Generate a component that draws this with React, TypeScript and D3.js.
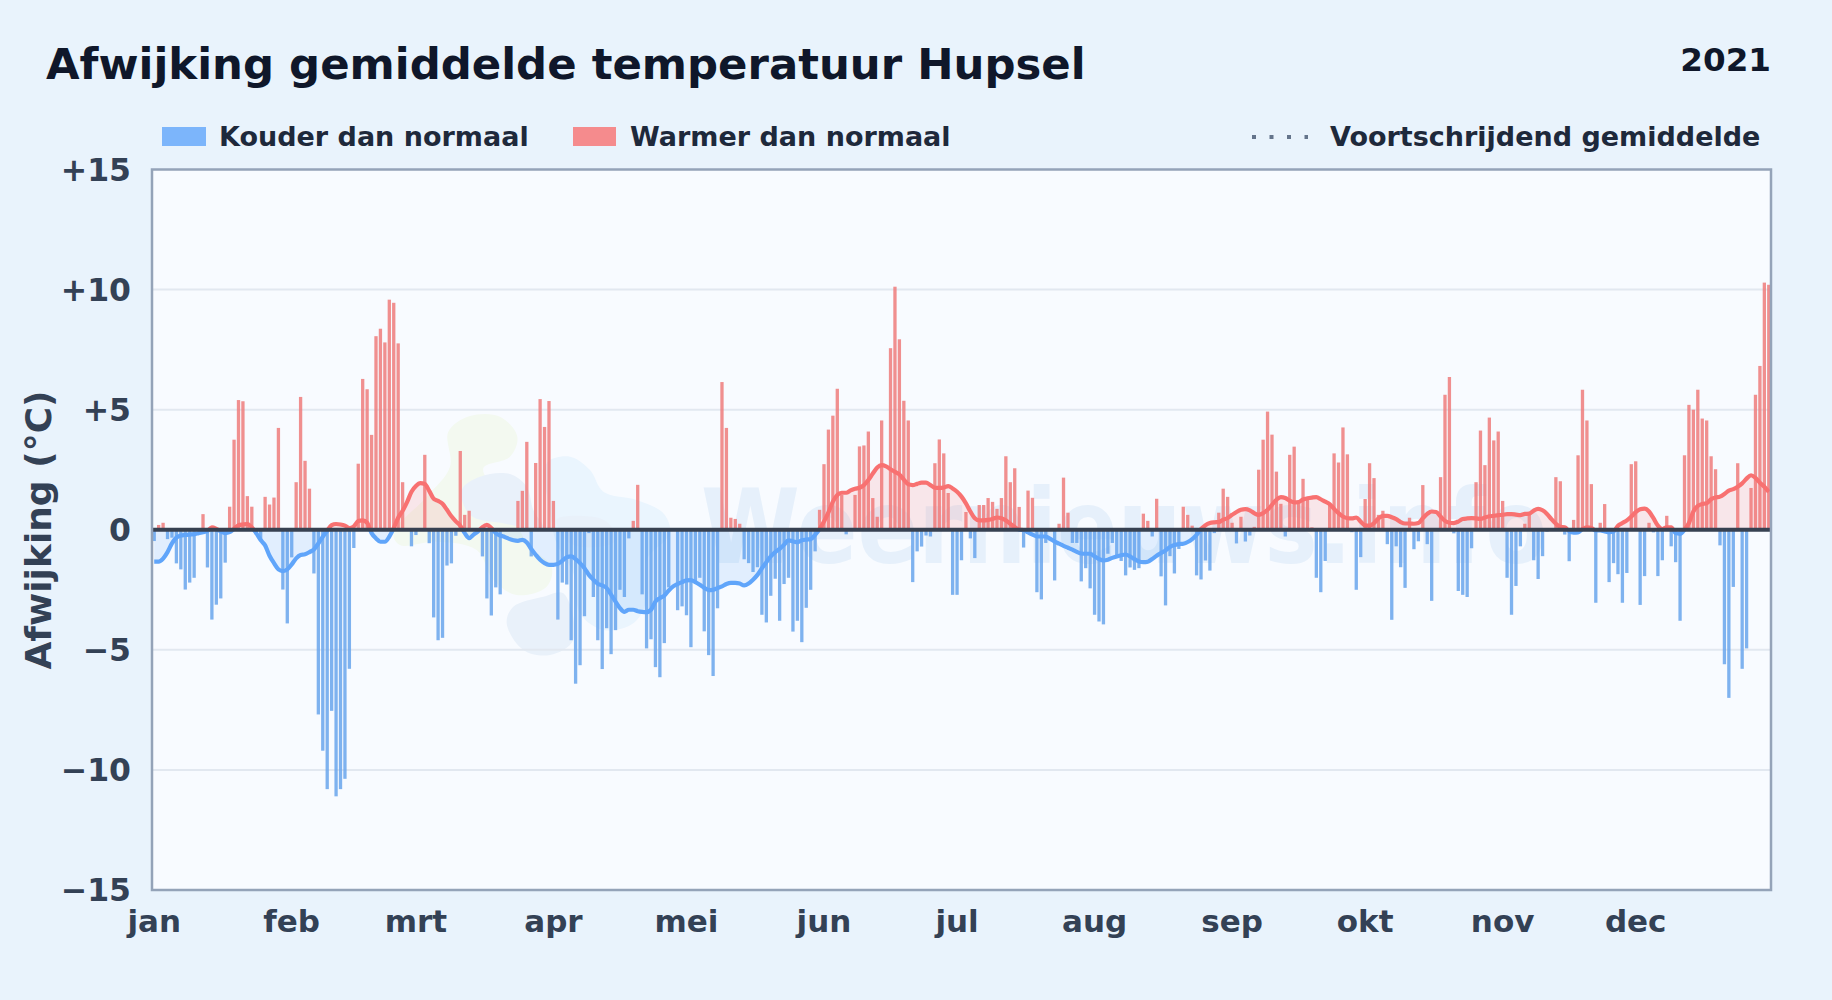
import React from 'react'
import * as d3 from 'd3'

// dagelijkse afwijking (graden C), 1 jan t/m 31 dec 2021
const dailyDeviation: number[] = [
  -0.47, 0.2, 0.29, -0.39, -0.33, -1.4, -1.65, -2.49, -2.2, -2.0,
  0.05, 0.65, -1.57, -3.74, -3.12, -2.86, -1.37, 0.96, 3.75, 5.4,
  5.35, 1.4, 0.96, -0.2, -0.43, 1.37, 1.05, 1.34, 4.24, -2.49,
  -3.9, -1.15, 1.98, 5.53, 2.87, 1.71, -1.82, -7.69, -9.2, -10.8,
  -7.54, -11.1, -10.8, -10.37, -5.79, -0.76, 2.75, 6.28, 5.85, 3.95,
  8.06, 8.37, 7.8, 9.58, 9.45, 7.76, 1.98, 0.05, -0.69, -0.22,
  0.05, 3.12, -0.56, -3.65, -4.6, -4.5, -1.49, -1.4, -0.25, 3.28,
  0.62, 0.79, 0.05, 0.05, -1.11, -2.86, -3.57, -2.4, -2.69, -0.05,
  0.05, -0.05, 1.2, 1.62, 3.66, -1.11, 2.78, 5.44, 4.28, 5.36,
  1.2, -3.74, -2.2, -2.28, -4.6, -6.41, -5.64, -3.6, -0.14, -2.8,
  -4.6, -5.8, -4.1, -5.18, -4.18, -2.5, -2.8, -0.36, 0.37, 1.87,
  -2.69, -4.94, -4.56, -5.72, -6.14, -4.72, -2.4, -0.05, -3.35, -3.19,
  -3.56, -4.89, -2.2, -2.0, -4.23, -5.22, -6.09, -3.27, 6.15, 4.24,
  0.5, 0.45, 0.25, -1.23, -1.39, -1.76, -1.56, -3.54, -3.86, -2.75,
  -2.04, -3.79, -2.26, -2.0, -4.24, -3.79, -4.68, -3.25, -2.5, -0.9,
  0.83, 2.73, 4.17, 4.75, 5.87, 1.45, -0.19, 0.05, 1.45, 3.47,
  3.51, 4.09, 1.32, 0.54, 4.55, 0.05, 7.56, 10.12, 7.93, 5.37,
  4.55, -2.18, -0.9, -0.7, -0.24, -0.28, 2.77, 3.76, 3.18, 1.53,
  -2.71, -2.71, -1.27, 0.74, -0.36, -1.18, 1.03, 1.03, 1.32, 1.16,
  0.87, 1.32, 3.06, 1.98, 2.56, 0.95, -0.74, 1.63, 1.33, -2.6,
  -2.9, -0.55, 0.05, -2.11, 0.25, 2.17, 0.71, -0.55, -0.55, -2.15,
  -1.6, -2.44, -3.54, -3.82, -3.94, -1.0, -0.55, -1.1, -1.3, -1.9,
  -1.57, -1.67, -1.6, 0.67, 0.37, -0.28, 1.29, -1.94, -3.15, -1.1,
  -1.82, -0.8, 0.96, 0.62, 0.17, -1.9, -2.07, -1.28, -1.7, -0.14,
  0.71, 1.71, 1.37, 0.29, -0.57, 0.54, -0.49, -0.24, 0.12, 2.5,
  3.75, 4.92, 3.96, 2.42, 1.08, -0.28, 3.12, 3.46, 1.1, 2.12,
  1.25, 0.1, -2.0, -2.6, -1.3, 1.1, 3.18, 2.8, 4.26, 3.14,
  -0.1, -2.5, -1.14, 1.28, 2.77, 2.15, 0.62, 0.79, -0.6, -3.75,
  -0.69, -1.56, -2.42, 0.5, -0.81, -0.48, 1.86, -0.6, -2.96, 0.05,
  2.19, 5.62, 6.36, -0.15, -2.55, -2.71, -2.8, -0.77, 1.98, 4.13,
  2.69, 4.67, 3.72, 4.09, 1.2, -2.0, -3.54, -2.34, -0.69, 0.25,
  0.62, -1.27, -2.05, -1.1, -0.08, 0.05, 2.19, 2.02, -0.2, -1.31,
  0.41, 3.1, 5.83, 4.55, 1.9, -3.04, 0.29, 1.07, -2.18, -1.39,
  -1.85, -3.04, -1.8, 2.73, 2.85, -3.13, -1.93, 0.29, -0.11, -1.93,
  -1.27, 0.58, -0.69, -1.35, -3.79, 3.1, 5.2, 5.0, 5.83, 4.63,
  4.55, 3.06, 2.52, -0.65, -5.6, -7.0, -2.38, 2.77, -5.79, -4.94,
  1.74, 5.62, 6.82, 10.29, 10.2,
]

// voortschrijdend gemiddelde per dag
const movingAverage: number[] = [
  -1.33, -1.33, -1.2, -0.93, -0.57, -0.33, -0.24, -0.22, -0.2, -0.19,
  -0.14, -0.1, -0.05, 0.1, 0.04, -0.07, -0.14, -0.1, 0.04, 0.19,
  0.22, 0.24, 0.1, -0.14, -0.43, -0.65, -1.08, -1.39, -1.65, -1.72,
  -1.65, -1.44, -1.19, -1.05, -1.02, -0.93, -0.82, -0.57, -0.29, -0.04,
  0.19, 0.24, 0.22, 0.17, 0.07, 0.14, 0.36, 0.39, 0.29, -0.14,
  -0.36, -0.5, -0.5, -0.29, 0.07, 0.5, 0.79, 1.15, 1.58, 1.82,
  1.94, 1.91, 1.62, 1.29, 1.2, 1.08, 0.83, 0.56, 0.35, 0.17,
  -0.14, -0.35, -0.2, -0.07, 0.11, 0.2, 0.07, -0.14, -0.24, -0.3,
  -0.38, -0.44, -0.46, -0.42, -0.53, -0.8, -1.04, -1.25, -1.39, -1.46,
  -1.46, -1.42, -1.29, -1.14, -1.11, -1.22, -1.39, -1.6, -1.88, -2.08,
  -2.25, -2.32, -2.43, -2.7, -2.99, -3.26, -3.42, -3.33, -3.33, -3.39,
  -3.42, -3.43, -3.33, -2.99, -2.85, -2.74, -2.53, -2.36, -2.26, -2.18,
  -2.11, -2.1, -2.18, -2.29, -2.42, -2.51, -2.5, -2.43, -2.36, -2.26,
  -2.21, -2.21, -2.24, -2.32, -2.24, -2.08, -1.88, -1.6, -1.35, -1.11,
  -0.93, -0.8, -0.62, -0.44, -0.48, -0.52, -0.44, -0.41, -0.39, -0.21,
  0.03, 0.34, 0.72, 1.17, 1.45, 1.54, 1.54, 1.64, 1.71, 1.75,
  1.86, 2.07, 2.34, 2.59, 2.69, 2.64, 2.52, 2.41, 2.3, 2.09,
  1.89, 1.86, 1.91, 1.96, 1.96, 1.86, 1.75, 1.74, 1.76, 1.82,
  1.72, 1.58, 1.38, 1.1, 0.76, 0.48, 0.39, 0.39, 0.41, 0.45,
  0.51, 0.48, 0.39, 0.25, 0.11, 0.0, -0.01, -0.11, -0.2, -0.28,
  -0.28, -0.28, -0.38, -0.49, -0.58, -0.67, -0.75, -0.83, -0.92, -0.99,
  -1.0, -1.0, -1.11, -1.22, -1.28, -1.25, -1.17, -1.11, -1.06, -1.03,
  -1.11, -1.22, -1.32, -1.35, -1.33, -1.22, -1.08, -0.97, -0.86, -0.72,
  -0.64, -0.6, -0.58, -0.51, -0.39, -0.21, 0.03, 0.19, 0.28, 0.31,
  0.32, 0.42, 0.49, 0.62, 0.74, 0.83, 0.86, 0.81, 0.69, 0.62,
  0.69, 0.83, 1.04, 1.25, 1.36, 1.32, 1.21, 1.14, 1.15, 1.26,
  1.31, 1.34, 1.36, 1.27, 1.17, 1.07, 0.87, 0.69, 0.55, 0.48,
  0.47, 0.51, 0.34, 0.18, 0.17, 0.28, 0.47, 0.58, 0.58, 0.52,
  0.44, 0.32, 0.26, 0.26, 0.25, 0.28, 0.48, 0.66, 0.76, 0.74,
  0.55, 0.37, 0.29, 0.28, 0.34, 0.45, 0.47, 0.48, 0.47, 0.45,
  0.51, 0.56, 0.58, 0.61, 0.62, 0.65, 0.65, 0.63, 0.61, 0.66,
  0.67, 0.8, 0.87, 0.81, 0.66, 0.44, 0.25, 0.12, 0.1, -0.06,
  -0.12, -0.11, 0.03, 0.1, 0.07, -0.03, -0.03, -0.07, -0.1, -0.07,
  0.17, 0.28, 0.39, 0.55, 0.73, 0.85, 0.88, 0.76, 0.48, 0.17,
  0.03, 0.1, 0.1, -0.14, -0.17, 0.0, 0.28, 0.76, 0.99, 1.07,
  1.1, 1.27, 1.34, 1.38, 1.49, 1.63, 1.69, 1.79, 1.93, 2.13,
  2.27, 2.16, 1.96, 1.79, 1.58,
]

const monthLabels = ['jan', 'feb', 'mrt', 'apr', 'mei', 'jun', 'jul', 'aug', 'sep', 'okt', 'nov', 'dec']
const monthStarts = [0, 31, 59, 90, 120, 151, 181, 212, 243, 273, 304, 334]
const yTicks = [15, 10, 5, 0, -5, -10, -15]

const W = 1832
const H = 1000
const plot = { left: 152, right: 1771, top: 169.5, bottom: 890 }
const FONT = '"DejaVu Sans", sans-serif'
const COLD = '#60a5fa'
const WARM = '#f87171'

// elke dag is een band van gelijke breedte, het staafje staat in het midden
const x = d3.scaleLinear().domain([-0.5, 364.5]).range([plot.left, plot.right])
const y = d3.scaleLinear().domain([-15, 15]).range([plot.bottom, plot.top])

const avgLine = d3.line<number>().x((_, i) => x(i)).y((d) => y(d)).curve(d3.curveMonotoneX)
const avgArea = d3.area<number>().x((_, i) => x(i)).y0(y(0)).y1((d) => y(d)).curve(d3.curveMonotoneX)

const fmtTick = (v: number) => (v > 0 ? `+${v}` : v < 0 ? `\u2212${-v}` : '0')

// watermerk-logo: vlekken, punten in px t.o.v. (370,400) op schaal 3
const blobs: { fill: string; pts: [number, number][] }[] = [
  { fill: '#f3f9f0', pts: [[235, 95], [300, 48], [390, 50], [442, 110], [420, 170], [340, 205], [400, 300], [480, 440], [545, 500], [530, 560], [440, 585], [370, 540], [320, 450], [200, 425], [90, 435], [70, 400], [170, 290], [240, 200]] },
  { fill: '#eaf5fe', pts: [[530, 190], [600, 170], [660, 210], [700, 275], [800, 300], [880, 340], [900, 400], [830, 480], [830, 600], [790, 670], [700, 690], [630, 640], [610, 520], [560, 430], [540, 340]] },
  { fill: '#e9f1fa', pts: [[275, 270], [330, 230], [420, 222], [470, 260], [490, 330], [520, 385], [400, 370], [300, 345]] },
  { fill: '#e9f1fa', pts: [[560, 360], [640, 348], [710, 365], [740, 420], [690, 440], [600, 430]] },
  { fill: '#e9f1fa', pts: [[410, 670], [430, 620], [520, 590], [580, 580], [610, 720], [540, 765], [460, 750]] },
]
const blobPath = d3.line<[number, number]>()
  .x((p) => 370 + p[0] / 3)
  .y((p) => 400 + p[1] / 3)
  .curve(d3.curveCatmullRomClosed.alpha(0.5))

const App = () => {
  return (
    <svg width={W} height={H} style={{ position: 'absolute', left: 0, top: 0, display: 'block' }} fontFamily={FONT}>
      <defs>
        <clipPath id="plotClip">
          <rect x={plot.left} y={plot.top} width={plot.right - plot.left} height={plot.bottom - plot.top} />
        </clipPath>
        <clipPath id="aboveZero">
          <rect x={plot.left} y={plot.top} width={plot.right - plot.left} height={y(0) - plot.top} />
        </clipPath>
        <clipPath id="belowZero">
          <rect x={plot.left} y={y(0)} width={plot.right - plot.left} height={plot.bottom - y(0)} />
        </clipPath>
      </defs>

      <rect width={W} height={H} fill="#e9f3fc" />
      <rect x={plot.left} y={plot.top} width={plot.right - plot.left} height={plot.bottom - plot.top} fill="#f8fbff" />

      <g clipPath="url(#plotClip)">
        {blobs.map((b, i) => (
          <path key={i} d={blobPath(b.pts) ?? ''} fill={b.fill} />
        ))}
        <text x={701} y={563} fontSize={103} fontWeight={700} fill="#e6f0fb" textLength={846} lengthAdjust="spacingAndGlyphs">Weernieuws.info</text>
      </g>

      {yTicks.filter((t) => t !== 0 && Math.abs(t) !== 15).map((t) => (
        <line key={t} x1={plot.left} x2={plot.right} y1={y(t)} y2={y(t)} stroke="#e2e8f0" strokeWidth={2} />
      ))}

      <g clipPath="url(#plotClip)">
        {dailyDeviation.map((v, i) => (
          <rect
            key={i}
            x={x(i) - 1.65}
            width={3.3}
            y={v > 0 ? y(v) : y(0)}
            height={Math.abs(y(v) - y(0))}
            fill={v > 0 ? '#ee7b7b' : '#68a5ec'}
            opacity={0.85}
          />
        ))}
        <path d={avgArea(movingAverage) ?? ''} fill={WARM} fillOpacity={0.15} clipPath="url(#aboveZero)" />
        <path d={avgArea(movingAverage) ?? ''} fill={COLD} fillOpacity={0.15} clipPath="url(#belowZero)" />
        <path d={avgLine(movingAverage) ?? ''} fill="none" stroke={WARM} strokeWidth={4.2} clipPath="url(#aboveZero)" />
        <path d={avgLine(movingAverage) ?? ''} fill="none" stroke={COLD} strokeWidth={4.2} clipPath="url(#belowZero)" />
      </g>

      <line x1={plot.left} x2={plot.right} y1={y(0)} y2={y(0)} stroke="#374151" strokeWidth={3.8} />
      <rect x={plot.left} y={plot.top} width={plot.right - plot.left} height={plot.bottom - plot.top} fill="none" stroke="#94a3b8" strokeWidth={2.5} />

      {yTicks.map((t) => (
        <text key={t} x={131} y={y(t) + 11} textAnchor="end" fontSize={31.5} fontWeight={700} fill="#334155">{fmtTick(t)}</text>
      ))}
      {monthLabels.map((m, i) => (
        <text key={m} x={x(monthStarts[i])} y={932} textAnchor="middle" fontSize={31} fontWeight={700} fill="#334155">{m}</text>
      ))}

      <text transform={`translate(51,530) rotate(-90)`} textAnchor="middle" fontSize={36} fontWeight={700} fill="#334155">Afwijking (°C)</text>

      <text x={46} y={79} fontSize={43.4} fontWeight={700} fill="#0f172a">Afwijking gemiddelde temperatuur Hupsel</text>
      <text x={1771} y={71} textAnchor="end" fontSize={32.6} fontWeight={700} fill="#0f172a">2021</text>

      <rect x={162} y={127} width={44} height={19} fill={COLD} opacity={0.8} />
      <text x={219} y={146} fontSize={27} fontWeight={700} fill="#1e293b">Kouder dan normaal</text>
      <rect x={573} y={127} width={43} height={19} fill={WARM} opacity={0.8} />
      <text x={630} y={146} fontSize={27} fontWeight={700} fill="#1e293b">Warmer dan normaal</text>
      <line x1={1252} x2={1308} y1={137} y2={137} stroke="#64748b" strokeWidth={4} strokeDasharray="4 13.5" />
      <text x={1330} y={146} fontSize={27} fontWeight={700} fill="#1e293b">Voortschrijdend gemiddelde</text>
    </svg>
  )
}

export default App
